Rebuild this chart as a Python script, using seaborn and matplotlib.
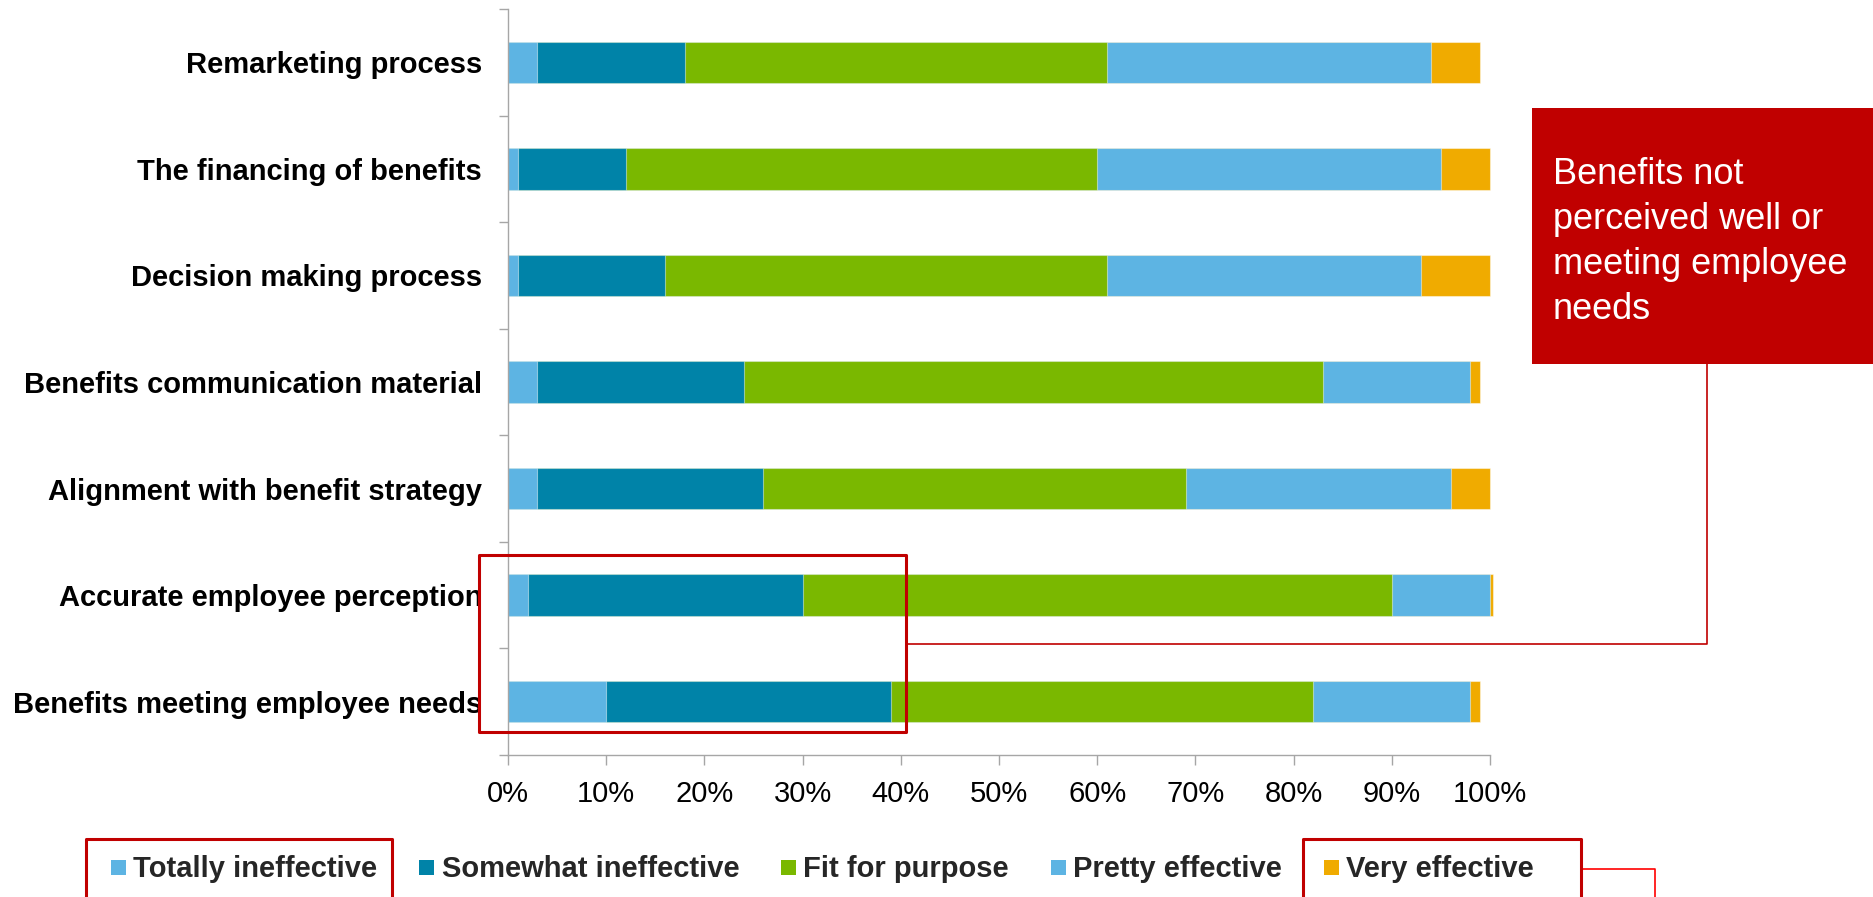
import numpy as np
import pandas as pd
import matplotlib
matplotlib.use("Agg")
import matplotlib.pyplot as plt
import seaborn as sns
from matplotlib.ticker import PercentFormatter, FixedLocator
from matplotlib.patches import Rectangle
from matplotlib.lines import Line2D

# ---- data -------------------------------------------------------------
categories = [
    "Remarketing process",
    "The financing of benefits",
    "Decision making process",
    "Benefits communication material",
    "Alignment with benefit strategy",
    "Accurate employee perception",
    "Benefits meeting employee needs",
]
series_names = ["Totally ineffective", "Somewhat ineffective", "Fit for purpose",
                "Pretty effective", "Very effective"]
totally_ineffective = [3, 1, 1, 3, 3, 2, 10]
somewhat_ineffective = [15, 11, 15, 21, 23, 28, 29]
fit_for_purpose = [43, 48, 45, 59, 43, 60, 43]
pretty_effective = [33, 35, 32, 15, 27, 10, 16]
very_effective = [5, 5, 7, 1, 4, 0.3, 1]
x_ticks = [0, 10, 20, 30, 40, 50, 60, 70, 80, 90, 100]
callout_text = "Benefits not\nperceived well or\nmeeting employee\nneeds"

series_colors = ["#5DB4E3", "#0083A8", "#7AB800", "#5DB4E3", "#F0AB00"]
highlight_red = "#C00000"
axis_grey = "#A6A6A6"

# ---- figure -----------------------------------------------------------
sns.set_theme(style="white")
plt.rcParams["font.family"] = ["Liberation Sans", "DejaVu Sans"]

W, H = 1873, 897
fig = plt.figure(figsize=(W / 100, H / 100), dpi=100)


def fx(x):
    return x / W


def fy(y):
    return 1 - y / H


ax = fig.add_axes([fx(508), fy(755), fx(1490) - fx(508), fy(9) - fy(755)])

df = pd.DataFrame(
    {
        series_names[0]: totally_ineffective,
        series_names[1]: somewhat_ineffective,
        series_names[2]: fit_for_purpose,
        series_names[3]: pretty_effective,
        series_names[4]: very_effective,
    },
    index=categories,
)
cum = df.cumsum(axis=1) / 100.0

# stacked bars: draw the running totals from the longest to the shortest
for name, color in reversed(list(zip(series_names, series_colors))):
    sns.barplot(
        x=cum[name].values, y=categories, orient="h", color=color,
        saturation=1, width=0.39, ax=ax, edgecolor=(1, 1, 1, 0.45),
        linewidth=0.8, clip_on=False,
    )

ax.set_xlim(0, 1)
ax.set_ylim(6.5, -0.5)
ax.set_xlabel("")
ax.set_ylabel("")

# axes styling
for side in ("top", "right"):
    ax.spines[side].set_visible(False)
for side in ("left", "bottom"):
    ax.spines[side].set_color(axis_grey)
    ax.spines[side].set_linewidth(1.0)

ax.set_xticks(np.array(x_ticks) / 100.0)
ax.xaxis.set_major_formatter(PercentFormatter(1.0, decimals=0))
ax.tick_params(axis="x", which="major", bottom=True, length=7.2, width=1,
               color=axis_grey, labelsize=21, pad=11, labelcolor="black")

ax.set_yticks(range(len(categories)))
ax.set_yticklabels(categories, fontweight="bold", fontsize=21, color="black")
ax.tick_params(axis="y", which="major", left=False, length=0, pad=18.7)
ax.yaxis.set_minor_locator(FixedLocator(np.arange(-0.5, len(categories), 1.0)))
ax.tick_params(axis="y", which="minor", left=True, length=6.5, width=1,
               color=axis_grey)

# ---- legend -----------------------------------------------------------
handles = [
    Line2D([], [], marker="s", linestyle="none", markersize=10.8,
           markerfacecolor=c, markeredgewidth=0)
    for c in series_colors
]
fig.legend(
    handles, series_names, ncol=5, loc="center left",
    bbox_to_anchor=(fx(110), fy(869)), frameon=False,
    handlelength=0.55, handletextpad=0.25, columnspacing=1.4,
    borderpad=0, borderaxespad=0,
    prop=dict(weight="bold", size=21),
)

# ---- highlights and callout -------------------------------------------
lw_box = 2.2

# box around the two weakest rows
fig.add_artist(Rectangle((fx(479), fy(732)), fx(906) - fx(479), fy(555) - fy(732),
                         transform=fig.transFigure, fill=False,
                         edgecolor=highlight_red, linewidth=lw_box,
                         joinstyle="round", zorder=5))

# callout box
fig.add_artist(Rectangle((fx(1532), fy(364)), fx(1880) - fx(1532), fy(108) - fy(364),
                         transform=fig.transFigure, facecolor=highlight_red,
                         edgecolor="none", zorder=4))
fig.text(fx(1553), fy(157), callout_text, color="white", fontsize=26,
         ha="left", va="top", linespacing=1.37, zorder=6)

# connector from highlighted rows to callout
fig.add_artist(Line2D([fx(906), fx(1707), fx(1707)], [fy(644), fy(644), fy(364)],
                      transform=fig.transFigure, color=highlight_red,
                      linewidth=1.2, zorder=4))

# boxes around the two extreme legend entries
fig.add_artist(Rectangle((fx(86), fy(905)), fx(392) - fx(86), fy(839) - fy(905),
                         transform=fig.transFigure, fill=False,
                         edgecolor=highlight_red, linewidth=lw_box,
                         joinstyle="round", zorder=5, clip_on=False))
fig.add_artist(Rectangle((fx(1303), fy(905)), fx(1581) - fx(1303), fy(839) - fy(905),
                         transform=fig.transFigure, fill=False,
                         edgecolor=highlight_red, linewidth=lw_box,
                         joinstyle="round", zorder=5, clip_on=False))
fig.add_artist(Line2D([fx(1581), fx(1655), fx(1655)], [fy(869), fy(869), fy(905)],
                      transform=fig.transFigure, color="#FF0000",
                      linewidth=1.2, zorder=4))

fig.savefig("out.png", dpi=100, facecolor="white")
